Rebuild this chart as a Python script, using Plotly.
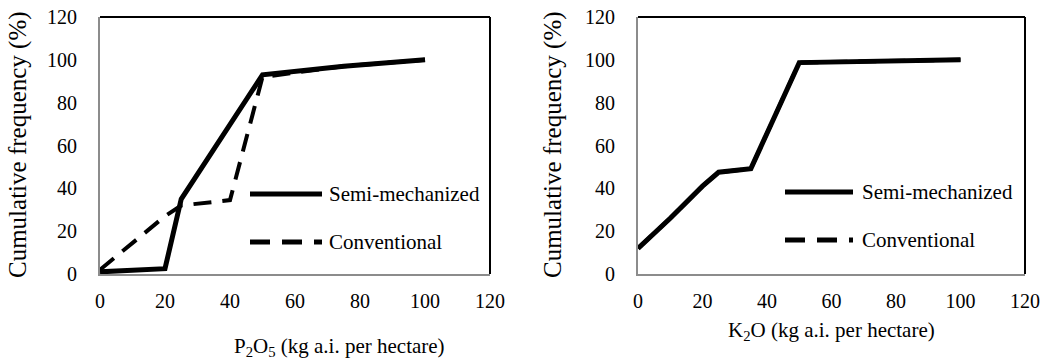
import plotly.graph_objects as go

# ---- data ----
p_x_semi = [0, 20, 25, 50, 75, 100]
p_y_semi = [1, 2.5, 35, 93, 97, 100]
p_x_conv = [0, 20, 25, 40, 50, 75, 100]
p_y_conv = [2, 27, 32, 34.5, 92, 97, 100]

k_x_semi = [0, 10, 20, 25, 35, 50, 100]
k_y_semi = [12, 26, 41, 47.5, 49.2, 98.7, 100]
k_x_conv = [0, 10, 20, 25, 35, 50, 100]
k_y_conv = [12, 26, 41, 47.5, 49.2, 98.7, 100]

x_ticks = [0, 20, 40, 60, 80, 100, 120]
y_ticks = [0, 20, 40, 60, 80, 100, 120]

series_names = ["Semi-mechanized", "Conventional"]

FONT = "Liberation Serif, Times New Roman, serif"
W, H = 1049, 361
# plot region (pixels)
L, R, T, B = 100, 1025, 17, 274
PW, PH = R - L, B - T


def px(xp):
    return (xp - L) / PW


def py(yp):
    return (B - yp) / PH


fig = go.Figure()

solid = dict(color="black", width=5)
dashed = dict(color="black", width=4, dash="18px,11px")

fig.add_trace(go.Scatter(x=p_x_conv, y=p_y_conv, mode="lines", line=dashed,
                         name=series_names[1], xaxis="x", yaxis="y", showlegend=False))
fig.add_trace(go.Scatter(x=p_x_semi, y=p_y_semi, mode="lines", line=solid,
                         name=series_names[0], xaxis="x", yaxis="y", showlegend=False))
fig.add_trace(go.Scatter(x=k_x_conv, y=k_y_conv, mode="lines", line=dashed,
                         name=series_names[1], xaxis="x2", yaxis="y2", showlegend=False))
fig.add_trace(go.Scatter(x=k_x_semi, y=k_y_semi, mode="lines", line=solid,
                         name=series_names[0], xaxis="x2", yaxis="y2", showlegend=False))

ax_common = dict(showgrid=False, zeroline=False, showline=True, linecolor="#8c8c8c",
                 linewidth=2, ticks="", tickfont=dict(family=FONT, size=20, color="black"),
                 fixedrange=True, automargin=False)

fig.update_layout(
    width=W, height=H,
    margin=dict(l=L, r=W - R, t=T, b=H - B, autoexpand=False),
    paper_bgcolor="white", plot_bgcolor="white",
    font=dict(family=FONT, color="black"),
    xaxis=dict(domain=[0, px(490)], anchor="y", range=[0, 120], tickvals=x_ticks,
               ticklabelstandoff=8, **ax_common),
    yaxis=dict(domain=[0, 1], anchor="x", range=[0, 120], tickvals=y_ticks,
               ticklabelstandoff=17, **ax_common),
    xaxis2=dict(domain=[px(638), 1], anchor="y2", range=[0, 120], tickvals=x_ticks,
                ticklabelstandoff=8, **ax_common),
    yaxis2=dict(domain=[0, 1], anchor="x2", range=[0, 120], tickvals=y_ticks,
                ticklabelstandoff=17, **ax_common),
    showlegend=False,
)

# top/right frame edges (black)
for xr, yr in (("x domain", "y domain"), ("x2 domain", "y2 domain")):
    fig.add_shape(type="line", xref=xr, yref=yr, x0=0, x1=1, y0=1, y1=1,
                  line=dict(color="black", width=2))
    fig.add_shape(type="line", xref=xr, yref=yr, x0=1, x1=1, y0=0, y1=1,
                  line=dict(color="black", width=2))

# legends (drawn as keys + labels)
legfont = dict(family=FONT, size=21, color="black")
for (lx0, lx1, tx, y_s, y_c) in ((250, 322, 327, 194, 242), (785, 853, 860, 192, 240)):
    fig.add_shape(type="line", xref="paper", yref="paper", x0=px(lx0), x1=px(lx1),
                  y0=py(y_s), y1=py(y_s), line=dict(color="black", width=5))
    fig.add_shape(type="line", xref="paper", yref="paper", x0=px(lx0), x1=px(lx1),
                  y0=py(y_c), y1=py(y_c), line=dict(color="black", width=5, dash="20px,12px"))
    fig.add_annotation(text=series_names[0], xref="paper", yref="paper", x=px(tx), y=py(y_s),
                       showarrow=False, font=legfont, xanchor="left", yanchor="middle")
    fig.add_annotation(text=series_names[1], xref="paper", yref="paper", x=px(tx), y=py(y_c),
                       showarrow=False, font=legfont, xanchor="left", yanchor="middle")

# axis titles
ytitle = "Cumulative frequency (%)"
for xc in (18, 553):
    fig.add_annotation(text=ytitle, xref="paper", yref="paper", x=px(xc), y=py(145),
                       textangle=-90, showarrow=False, font=dict(family=FONT, size=25),
                       xanchor="center", yanchor="middle")
fig.add_annotation(text="P<sub>2</sub>O<sub>5</sub> (kg a.i. per hectare)", xref="paper",
                   yref="paper", x=px(339), y=py(347), showarrow=False,
                   font=dict(family=FONT, size=21), xanchor="center", yanchor="middle")
fig.add_annotation(text="K<sub>2</sub>O (kg a.i. per hectare)", xref="paper",
                   yref="paper", x=px(831), y=py(331), showarrow=False,
                   font=dict(family=FONT, size=21), xanchor="center", yanchor="middle")

fig.write_html("out.html", config={"displayModeBar": False},
               post_script="document.body.style.margin='0';document.body.style.overflow='hidden';")
